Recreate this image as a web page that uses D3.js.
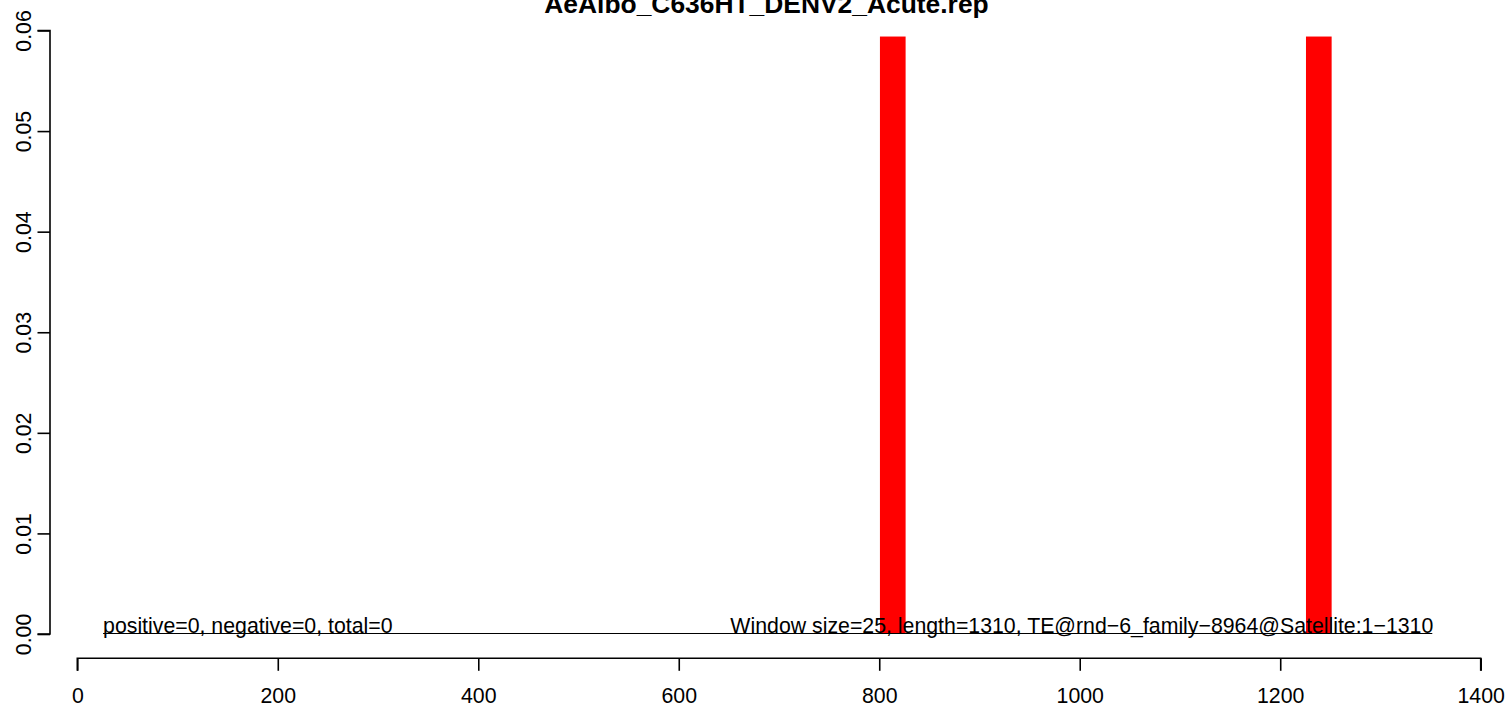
<!DOCTYPE html>
<html>
<head>
<meta charset="utf-8">
<script src="https://cdn.jsdelivr.net/npm/d3@7"></script>
<style>
  html, body { margin: 0; padding: 0; background: #fff; }
  svg { display: block; font-family: "Liberation Sans", Arial, sans-serif; }
</style>
</head>
<body>
<svg id="chart" width="1506" height="709"></svg>
<script>
// ---- data ----
const chartTitle = "AeAlbo_C636HT_DENV2_Acute.rep";
const windowStarts = [800, 1225];
const windowSize = 25;
const windowValues = [0.0594, 0.0594];
const xTicks = [0, 200, 400, 600, 800, 1000, 1200, 1400];
const yTicks = [0, 0.01, 0.02, 0.03, 0.04, 0.05, 0.06];
const baselineExtent = [25.7, 1351.7];
const leftNote = "positive=0, negative=0, total=0";
const rightNote = "Window size=25, length=1310, TE@rnd\u22126_family\u22128964@Satellite:1\u22121310";

// ---- layout ----
const svg = d3.select("#chart");
const x = d3.scaleLinear().domain([0, 1400]).range([77.3, 1480.7]);
const y = d3.scaleLinear().domain([0, 0.06]).range([634, 30.5]);
const fs = 21.3;

// bars
svg.append("g").selectAll("rect")
  .data(windowStarts.map((s, i) => ({ s, v: windowValues[i] })))
  .join("rect")
  .attr("x", d => x(d.s) + 0.7)
  .attr("width", d => x(d.s + windowSize) - x(d.s) + 0.6)
  .attr("y", d => y(d.v))
  .attr("height", d => y(0) - y(d.v))
  .attr("fill", "#ff0000");

// baseline line
svg.append("line")
  .attr("x1", x(baselineExtent[0])).attr("x2", x(baselineExtent[1]))
  .attr("y1", y(0) - 0.5).attr("y2", y(0) - 0.5)
  .attr("stroke", "#000").attr("stroke-width", 1);

// notes
svg.append("text")
  .attr("x", x(baselineExtent[0]))
  .attr("y", y(0) - 1)
  .attr("font-size", fs)
  .attr("fill", "#000")
  .text(leftNote);
svg.append("text")
  .attr("x", x(baselineExtent[1]) + 1)
  .attr("y", y(0) - 1)
  .attr("font-size", fs)
  .attr("text-anchor", "end")
  .attr("fill", "#000")
  .text(rightNote);

// x axis
const xAxis = d3.axisBottom(x).tickValues(xTicks).tickSize(12.5).tickPadding(17)
  .tickFormat(d3.format("d"));
const gx = svg.append("g").attr("transform", "translate(0,658.3)").call(xAxis);
gx.select(".domain").attr("d", `M${x(0)},12.5V0H${x(1400)}V12.5`).attr("stroke-width", 1.6);
gx.selectAll(".tick line").attr("stroke-width", 1.6);
gx.selectAll(".tick text").attr("font-size", fs).attr("font-family", "Liberation Sans, Arial, sans-serif")
  .attr("fill", "#000").attr("dy", "0.71em");

// y axis
const yAxis = d3.axisLeft(y).tickValues(yTicks).tickSize(12.5).tickFormat(d3.format(".2f"));
const gy = svg.append("g").attr("transform", "translate(50,0)").call(yAxis);
gy.select(".domain").attr("d", `M-12.5,${y(0.06)}H0V${y(0)}H-12.5`).attr("stroke-width", 1.6);
gy.selectAll(".tick line").attr("stroke-width", 1.6);
gy.selectAll(".tick text")
  .attr("font-size", fs).attr("font-family", "Liberation Sans, Arial, sans-serif")
  .attr("fill", "#000")
  .attr("x", null).attr("dy", null)
  .attr("text-anchor", "middle")
  .attr("transform", "translate(-19,0) rotate(-90)")
  .attr("y", 0);

// title
svg.append("text")
  .attr("x", 766.5).attr("y", 13)
  .attr("text-anchor", "middle")
  .attr("font-size", 26.4)
  .attr("font-weight", "bold")
  .attr("fill", "#000")
  .text(chartTitle);
</script>
</body>
</html>
